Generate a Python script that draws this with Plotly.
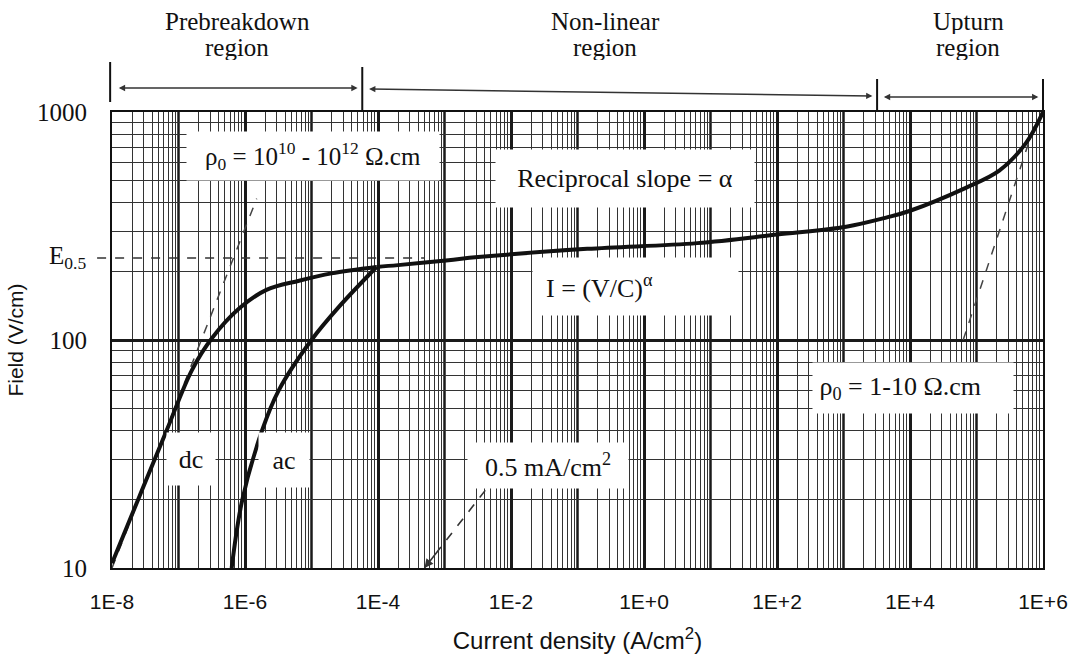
import numpy as np
import plotly.graph_objects as go

# ---------------- data ----------------
dc_j = [1e-8, 2.6e-8, 6.6e-8, 1.6e-7, 3.2e-7, 8.3e-7, 2.1e-6, 6.5e-6, 2.0e-5, 9.5e-5]
dc_e = [10.5, 20.7, 40, 74, 102, 138, 166, 182, 196, 209]

ac_j = [6.3e-7, 9.1e-7, 1.8e-6, 3.2e-6, 1.0e-5, 2.6e-5, 9.5e-5]
ac_e = [10, 19.9, 40, 60, 100, 140, 209]

main_j = [9.5e-5, 2.0e-4, 1.15e-3, 3.2e-3, 1.4e-1, 6.3, 1.0e2, 1.1e3, 4.5e3, 9.8e3, 6.9e4, 2.2e5, 5.5e5, 1.0e6]
main_e = [209, 213, 224, 231, 251, 266, 290, 314, 345, 368, 465, 553, 728, 1000]

ohmic_low_j = [1e-8, 1.5e-6]      # rho0 = 1e10 - 1e12 ohm.cm asymptote
ohmic_low_e = [10, 417]
ohmic_high_j = [6.3e4, 7.8e5]     # rho0 = 1 - 10 ohm.cm asymptote
ohmic_high_e = [100, 910]

J_half = 5e-4        # 0.5 mA/cm2
E_half = 229         # E0.5
J_half_label = 4.1e-3  # tail of the 0.5 mA/cm2 pointer
E_half_label = 21.9

region_bounds = [1e-8, 5.8e-5, 3.2e3, 1e6]
region_names = [("Prebreakdown", "region"), ("Non-linear", "region"), ("Upturn", "region")]

x_label_decades = [-8, -6, -4, -2, 0, 2, 4, 6]
x_tick_text = ["1E-8", "1E-6", "1E-4", "1E-2", "1E+0", "1E+2", "1E+4", "1E+6"]
x_odd_decades = [-7, -5, -3, -1, 1, 3, 5]
y_tick_vals = [10, 100, 1000]
y_tick_text = ["10", "100", "1000"]

# ---------------- figure ----------------
SERIF = "Liberation Serif, Times New Roman, serif"
SANS = "Liberation Sans, Arial, sans-serif"
INK = "#111111"

x_minor = [m * 10.0 ** k for k in range(-8, 6) for m in range(2, 10)]
y_minor = [m * 10.0 ** k for k in range(1, 3) for m in range(2, 10)]

fig = go.Figure()

dash_style = dict(color="#444444", width=1.5, dash="dash")
fig.add_trace(go.Scatter(x=ohmic_low_j, y=ohmic_low_e, mode="lines", line=dash_style, hoverinfo="skip"))
fig.add_trace(go.Scatter(x=ohmic_high_j, y=ohmic_high_e, mode="lines", line=dash_style, hoverinfo="skip"))

curve_style = dict(color=INK, width=4, shape="spline", smoothing=1.0)
fig.add_trace(go.Scatter(x=dc_j, y=dc_e, mode="lines", line=curve_style, name="dc"))
fig.add_trace(go.Scatter(x=ac_j, y=ac_e, mode="lines", line=curve_style, name="ac"))
fig.add_trace(go.Scatter(x=main_j, y=main_e, mode="lines", line=curve_style, name="nonlinear"))

# 0.5 mA/cm2 pointer shaft (dashed)
fig.add_trace(go.Scatter(
    x=[J_half_label, J_half], y=[E_half_label, 10], mode="lines",
    line=dict(color="#333333", width=1.6, dash="dash"), hoverinfo="skip"))

annotations = []


def box(text, xlog, ylog, w, h, align="center", size=26):
    annotations.append(dict(
        text=text, x=xlog, y=ylog, xref="x", yref="y", showarrow=False,
        width=w, height=h, bgcolor="white", borderpad=0, align=align,
        xanchor="center", yanchor="middle",
        font=dict(family=SERIF, size=size, color=INK)))


box("ρ<sub>0</sub> = 10<sup>10</sup> - 10<sup>12</sup> Ω.cm", -4.976, 2.807, 252, 48, size=25)
box("Reciprocal slope = α", -0.28, 2.708, 258, 57, size=26)
box("  I = (V/C)<sup>α</sup>", -0.133, 2.235, 205, 57, align="left", size=26)
box(" ρ<sub>0</sub> = 1-10 Ω.cm", 4.05, 1.789, 200, 50, align="left", size=26)
box("0.5 mA/cm<sup>2</sup>", -1.443, 1.4496, 160, 45, size=26)
box("dc", -6.817, 1.478, 48, 52)
box("ac", -5.41, 1.474, 50, 54)

# arrow tip of the 0.5 mA/cm2 pointer
tip_x, tip_y = np.log10(J_half), np.log10(10)
tail_x, tail_y = np.log10(J_half_label), np.log10(E_half_label)
annotations.append(dict(
    x=tip_x, y=tip_y, xref="x", yref="y",
    ax=tip_x + 0.2 * (tail_x - tip_x), ay=tip_y + 0.2 * (tail_y - tip_y), axref="x", ayref="y",
    text="", showarrow=True, arrowhead=2, arrowsize=1.1, arrowwidth=1.6, arrowcolor="#333333"))

# E0.5 label
annotations.append(dict(
    text="E<sub>0.5</sub>", x=-0.026, y=np.log10(E_half), xref="paper", yref="y",
    xanchor="right", yanchor="middle", showarrow=False,
    font=dict(family=SERIF, size=25, color=INK)))

# region brackets (double-headed arrows) and labels
lb = [np.log10(v) for v in region_bounds]
bracket_head_p = [1.0526, 1.0351, 1.0329]
bracket_tilt_px = [0, -7, 0]
label_shift = [0.0, -0.22, 0.12]
for i in range(3):
    annotations.append(dict(
        x=lb[i + 1] - 0.07, y=bracket_head_p[i], xref="x", yref="paper",
        ax=lb[i] + 0.08, ay=bracket_tilt_px[i], axref="x", ayref="pixel",
        text="", showarrow=True, arrowside="end+start", arrowhead=2,
        arrowsize=0.9, arrowwidth=1.4, arrowcolor="#333333"))
    xc = (lb[i] + lb[i + 1]) / 2 + label_shift[i]
    annotations.append(dict(
        text=region_names[i][0], x=xc, y=1.1975, xref="x", yref="paper",
        showarrow=False, xanchor="center", yanchor="middle", height=25,
        font=dict(family=SERIF, size=25, color=INK)))
    annotations.append(dict(
        text=region_names[i][1], x=xc, y=1.142, xref="x", yref="paper",
        showarrow=False, xanchor="center", yanchor="middle", height=25,
        font=dict(family=SERIF, size=25, color=INK)))

shapes = []
# thick lines at the unlabeled decades
for d in x_odd_decades:
    shapes.append(dict(type="line", xref="x", yref="paper", x0=10.0 ** d, x1=10.0 ** d, y0=0, y1=1,
                       layer="below", line=dict(color="#1a1a1a", width=2.5)))

px = [(np.log10(v) + 8) / 14 for v in region_bounds]
# bracket separators
shapes.append(dict(type="line", xref="paper", yref="paper", x0=-0.002, x1=-0.002, y0=1.0219, y1=1.1096,
                   line=dict(color=INK, width=2)))
shapes.append(dict(type="line", xref="paper", yref="paper", x0=px[1], x1=px[1], y0=1.0, y1=1.0987,
                   line=dict(color=INK, width=2)))
shapes.append(dict(type="line", xref="paper", yref="paper", x0=px[2], x1=px[2], y0=1.0, y1=1.0724,
                   line=dict(color=INK, width=2)))
shapes.append(dict(type="line", xref="paper", yref="paper", x0=px[3], x1=px[3], y0=1.0, y1=1.0724,
                   line=dict(color=INK, width=2)))
# E0.5 dashed line
shapes.append(dict(type="line", xref="paper", yref="y", x0=-0.016, x1=(np.log10(J_half) + 8) / 14,
                   y0=E_half, y1=E_half, line=dict(color="#333333", width=1.6, dash="dash")))

fig.update_layout(
    width=1080, height=663,
    margin=dict(l=112, r=33, t=112, b=95),
    paper_bgcolor="white", plot_bgcolor="white",
    showlegend=False,
    annotations=annotations,
    shapes=shapes,
)

fig.update_xaxes(
    type="log", range=[-8, 6],
    tickmode="array", tickvals=[10.0 ** d for d in x_label_decades], ticktext=x_tick_text,
    showgrid=True, gridcolor="#1a1a1a", gridwidth=2.5,
    minor=dict(tickmode="array", tickvals=x_minor, showgrid=True, gridcolor="#333333", gridwidth=1.2, ticks=""),
    showline=True, linecolor=INK, linewidth=2, mirror=True,
    ticks="", ticklabelstandoff=14,
    tickfont=dict(family=SANS, size=21, color=INK),
    title=dict(text="Current density (A/cm<sup>2</sup>)", font=dict(family=SANS, size=24, color=INK), standoff=20),
    zeroline=False,
)
fig.update_yaxes(
    type="log", range=[1, 3],
    tickmode="array", tickvals=y_tick_vals, ticktext=y_tick_text,
    showgrid=True, gridcolor="#1a1a1a", gridwidth=2.5,
    minor=dict(tickmode="array", tickvals=y_minor, showgrid=True, gridcolor="#333333", gridwidth=1.2, ticks=""),
    showline=True, linecolor=INK, linewidth=2, mirror=True,
    ticks="", ticklabelstandoff=18,
    tickfont=dict(family=SERIF, size=25, color=INK),
    title=dict(text="Field (V/cm)", font=dict(family=SANS, size=21, color=INK), standoff=8),
    zeroline=False,
)

fig.write_html("out.html")
